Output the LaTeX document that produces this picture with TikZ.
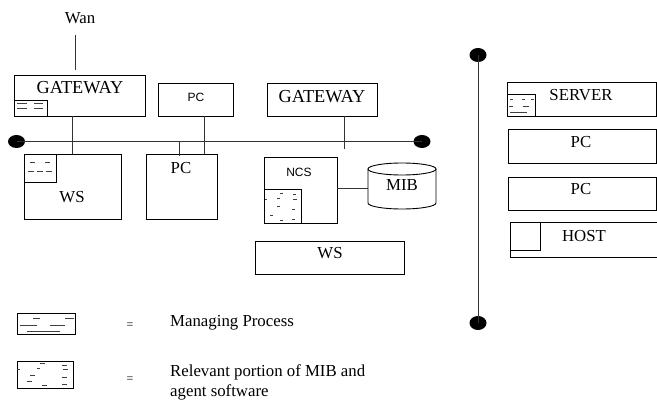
\documentclass[tikz,border=0pt]{standalone}
\usepackage{fontspec}
\setmainfont{Liberation Serif}
\newfontfamily\sansf{Liberation Sans}
\usetikzlibrary{shapes.geometric}
\tikzset{
  box/.style={draw, rectangle, line width=0.9pt, inner sep=0pt},
  lbl/.style={font=\fontsize{16.8}{20}\selectfont, inner sep=0pt},
  biglbl/.style={font=\fontsize{18.3}{21}\selectfont, inner sep=0pt},
  slbl/.style={font=\sansf\fontsize{12}{14}\selectfont, inner sep=0pt},
  bigdot/.style={ellipse, fill=black, inner sep=0pt, minimum width=17pt, minimum height=14pt},
  wire/.style={line width=1pt, draw=black!80},
  tick/.style={line width=0.7pt, draw=black!75},
}
\begin{document}
\begin{tikzpicture}[x=1pt, y=-1pt]
\useasboundingbox (0,0) rectangle (657,401);

% ---------- horizontal LAN ----------
\node[bigdot, minimum height=13pt] (busL) at (16.5,141.5) {};
\node[bigdot, minimum height=13pt] (busR) at (422,141.5) {};
\draw[wire] (busL.center) -- (busR.center);

% ---------- WAN gateway and workstation ----------
\node[lbl] (wan) at (80,18) {Wan};
\coordinate (wanEnd) at (75,70);
\draw[wire] (wanEnd |- 0,35) -- (wanEnd);

\node[box, minimum width=131pt, minimum height=41pt] (gw1) at (79.5,95.5) {};
\node[biglbl] (gw1t) at (80,88) {GATEWAY};
\node[box, minimum width=33pt, minimum height=16pt] (gw1mp) at (30.5,108) {};
\foreach \y in {103,108}{
  \draw[tick] (17,\y) -- (27,\y);
  \draw[tick] (34,\y) -- (43,\y);
}

\node[box, minimum width=97pt, minimum height=65pt] (ws1) at (72.5,186.5) {};
\node[lbl] (ws1t) at (72,197) {WS};
\node[box, minimum width=32pt, minimum height=28pt] (ws1ag) at (40,168) {};
\draw[tick] (30,162) -- (35,162);
\draw[tick] (45,162) -- (50,162);
\draw[tick] (28,171) -- (34,171);
\draw[tick] (37,171) -- (43,171);
\draw[tick] (46,171) -- (52,171);
\draw[wire] (gw1.south -| ws1.north) -- (ws1.north);

% ---------- PCs ----------
\node[box, minimum width=75pt, minimum height=33pt] (pc1) at (195.5,99.5) {};
\node[slbl] (pc1t) at (196,97) {PC};
\node[box, minimum width=71pt, minimum height=65pt] (pc2) at (181.5,186.5) {};
\node[lbl] (pc2t) at (181,168) {PC};
\draw[wire] ([xshift=8.5pt]pc1.south) -- ([xshift=8.5pt]pc1.south |- pc2.north);
\draw[wire] ([xshift=-2.5pt]pc2.north |- busL.center) -- ++(0,15);

% ---------- second gateway ----------
\node[box, minimum width=110pt, minimum height=33pt] (gw2) at (322,99.5) {};
\node[biglbl] (gw2t) at (322,97) {GATEWAY};
\draw[wire] ([xshift=22pt]gw2.south) -- ++(0,33);

% ---------- network control station and MIB ----------
\node[box, minimum width=73pt, minimum height=66pt] (ncs) at (300.5,190) {};
\node[slbl] (ncst) at (299,172) {NCS};
\node[box, minimum width=37pt, minimum height=34pt] (ncsag) at (282.5,206) {};
\foreach \a/\b/\y in {280/283/193, 293/296/194, 277/280/198, 265/267/199, 293/297/199,
                      277/280/206, 292/295/209, 270/273/215, 280/283/220, 292/295/219}{
  \draw[tick] (\a,\y) -- (\b,\y);
}

\draw[line width=0.9pt] (402,169) ellipse [x radius=34pt, y radius=6pt];
\draw[line width=0.9pt] (368,169) -- (368,203) arc[start angle=180, end angle=360, x radius=34pt, y radius=6pt] -- (436,169);
\node[lbl] (mib) at (402,185) {MIB};
\coordinate (mibW) at (368,189);
\draw[wire] (ncs.east |- mibW) -- (mibW);

\node[box, minimum width=149pt, minimum height=33pt] (ws2) at (329.5,257.5) {};
\node[lbl] (ws2t) at (330,253) {WS};

% ---------- vertical LAN ----------
\node[bigdot] (vbT) at (478,55) {};
\node[bigdot] (vbB) at (478,323) {};
\draw[wire] (vbT.center) -- (vbB.center);

\node[box, minimum width=149pt, minimum height=34pt] (srv) at (581.5,99) {};
\node[lbl] (srvt) at (581,95) {SERVER};
\node[box, minimum width=28pt, minimum height=22pt] (srvmp) at (521,105) {};
\draw[tick] (510,99) -- (513,99);
\draw[tick] (522,99) -- (525,99);
\draw[tick] (531,99) -- (534,99);
\draw[tick] (509,106) -- (513,106);
\draw[tick] (523,106) -- (529,106);
\draw[tick] (510,112) -- (527,112);

\node[box, minimum width=148pt, minimum height=34pt] (pcr1) at (582,146) {};
\node[lbl] (pcr1t) at (581,142) {PC};
\node[box, minimum width=148pt, minimum height=33pt] (pcr2) at (582,193.5) {};
\node[lbl] (pcr2t) at (581,189) {PC};
\node[box, minimum width=149pt, minimum height=35pt] (host) at (584.5,239.5) {};
\node[lbl] (hostt) at (584,236) {HOST};
\node[box, minimum width=30pt, minimum height=28pt] (hostsm) at (525,236) {};

% ---------- legend ----------
\node[box, minimum width=58pt, minimum height=21pt] (leg1) at (46,323.5) {};
\draw[tick] (33,318) -- (40,318);
\draw[tick] (65,318) -- (74,318);
\draw[tick] (20,325) -- (37,325);
\draw[tick] (50,325) -- (65,325);
\draw[tick] (27,331) -- (60,331);
\node[font=\fontsize{12}{14}\selectfont, inner sep=0pt] (eq1) at (130,326) {=};
\node[lbl, anchor=west] (leg1t) at (170,323) {Managing Process};

\node[box, minimum width=56pt, minimum height=27pt] (leg2) at (45,374.5) {};
\foreach \a/\b/\y in {17/20/369, 40/45/363, 37/40/368, 62/67/365, 63/68/369,
                      30/35/375, 62/67/377, 27/32/381, 42/47/385, 62/67/384}{
  \draw[tick] (\a,\y) -- (\b,\y);
}
\node[font=\fontsize{12}{14}\selectfont, inner sep=0pt] (eq2) at (130,380) {=};
\node[lbl, anchor=west] (leg2a) at (170,372) {Relevant portion of MIB and};
\node[lbl, anchor=west] (leg2b) at (170,392) {agent software};
\end{tikzpicture}
\end{document}
